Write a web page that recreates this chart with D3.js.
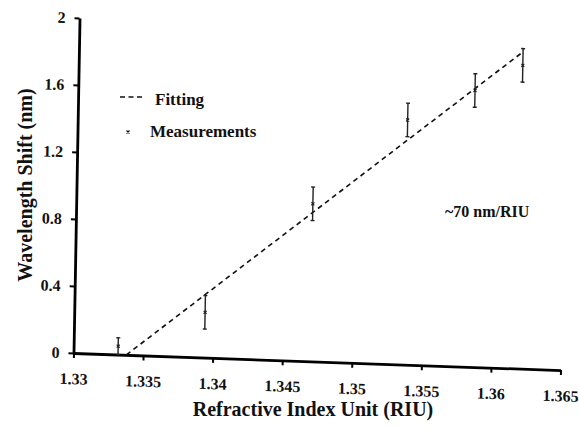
<!DOCTYPE html>
<html><head><meta charset="utf-8">
<script src="https://cdn.jsdelivr.net/npm/d3@7"></script>
<style>
body{margin:0;background:#fff}
#chart text{font-family:"Liberation Serif","Times New Roman",Times,serif !important;font-weight:bold}
</style>
</head><body>
<svg id="chart" width="579" height="430" style="display:block"></svg>
<script>
// ---- data ----
const riu = [1.3332, 1.3394, 1.3470, 1.3537, 1.3585, 1.3619];
const shift = [0.05, 0.27, 0.94, 1.46, 1.65, 1.81];
const shiftErr = [0.05, 0.10, 0.10, 0.10, 0.10, 0.10];
const fitRiu = [1.3338, 1.3618];
const fitShift = [0, 1.884];
const xTickValues = [1.33, 1.335, 1.34, 1.345, 1.35, 1.355, 1.36, 1.365];
const xTickLabels = ["1.33", "1.335", "1.34", "1.345", "1.35", "1.355", "1.36", "1.365"];
const yTickValues = [0, 0.4, 0.8, 1.2, 1.6, 2];
const yTickLabels = ["0", "0.4", "0.8", "1.2", "1.6", "2"];
const legendLabels = ["Fitting", "Measurements"];
const annotation = "~70 nm/RIU";
const xTitle = "Refractive Index Unit (RIU)";
const yTitle = "Wavelength Shift (nm)";

const svg = d3.select("#chart");
const W = 487, H = 335;
const x = d3.scaleLinear().domain([1.33, 1.365]).range([0, W]);
const y = d3.scaleLinear().domain([0, 2]).range([0, -H]);

// slightly sheared plot area, like the scanned original
const g = svg.append("g").attr("transform", "matrix(1,0.035,-0.018,1,73.5,353)");

const yAxis = g.append("g")
  .call(d3.axisLeft(y).tickValues(yTickValues).tickFormat((d, i) => yTickLabels[i])
    .tickSize(5).tickSizeOuter(0).tickPadding(9));
const xAxis = g.append("g")
  .call(d3.axisBottom(x).tickValues(xTickValues).tickFormat((d, i) => xTickLabels[i])
    .tickSize(5).tickSizeOuter(0).tickPadding(15));
[yAxis, xAxis].forEach(a => {
  a.attr("font-family", null).attr("font-size", 16);
  a.select(".domain").attr("stroke", "#000").attr("stroke-width", 2.8);
  a.selectAll(".tick line").attr("stroke", "#000").attr("stroke-width", 2);
  a.selectAll(".tick text").attr("fill", "#111");
});

// fitting line
g.append("path")
  .datum(fitRiu.map((r, i) => [r, fitShift[i]]))
  .attr("d", d3.line().x(d => x(d[0])).y(d => y(d[1])))
  .attr("fill", "none").attr("stroke", "#111").attr("stroke-width", 1.6)
  .attr("stroke-dasharray", "5,4");

// measurements with error bars
const pts = riu.map((r, i) => ({ r, s: shift[i], e: shiftErr[i] }));
const eb = g.append("g").selectAll("g").data(pts).join("g");
eb.append("line")
  .attr("x1", d => x(d.r)).attr("x2", d => x(d.r))
  .attr("y1", d => y(d.s - d.e)).attr("y2", d => y(d.s + d.e))
  .attr("stroke", "#222").attr("stroke-width", 1.4);
eb.append("line")
  .attr("x1", d => x(d.r) - 2).attr("x2", d => x(d.r) + 2)
  .attr("y1", d => y(d.s + d.e)).attr("y2", d => y(d.s + d.e))
  .attr("stroke", "#222").attr("stroke-width", 1.4);
eb.append("line")
  .attr("x1", d => x(d.r) - 2).attr("x2", d => x(d.r) + 2)
  .attr("y1", d => y(d.s - d.e)).attr("y2", d => y(d.s - d.e))
  .attr("stroke", "#222").attr("stroke-width", 1.4);
eb.append("path")
  .attr("d", d => `M${x(d.r) - 1.5},${y(d.s) - 1.5}L${x(d.r) + 1.5},${y(d.s) + 1.5}M${x(d.r) - 1.5},${y(d.s) + 1.5}L${x(d.r) + 1.5},${y(d.s) - 1.5}`)
  .attr("stroke", "#222").attr("stroke-width", 1.2);

// axis titles
svg.append("text").attr("x", 313).attr("y", 416).attr("text-anchor", "middle")
  .attr("font-size", 20).attr("fill", "#111").text(xTitle);
svg.append("text").attr("transform", "translate(32,185) rotate(-90)").attr("text-anchor", "middle")
  .attr("font-size", 20).attr("fill", "#111").text(yTitle);

// legend
const leg = svg.append("g");
leg.append("line").attr("x1", 120).attr("x2", 142).attr("y1", 97).attr("y2", 97)
  .attr("stroke", "#111").attr("stroke-width", 1.5).attr("stroke-dasharray", "5,3.5");
leg.append("text").attr("x", 155).attr("y", 105).text(legendLabels[0]);
leg.append("path").attr("d", "M126.5,130.5L129.5,133.5M126.5,133.5L129.5,130.5")
  .attr("stroke", "#111").attr("stroke-width", 1.3);
leg.append("text").attr("x", 150).attr("y", 137).text(legendLabels[1]);
leg.selectAll("text").attr("font-size", 17).attr("fill", "#111");

// slope annotation
svg.append("text").attr("x", 445).attr("y", 217)
  .attr("font-size", 16).attr("fill", "#111").text(annotation);
</script>
</body></html>
